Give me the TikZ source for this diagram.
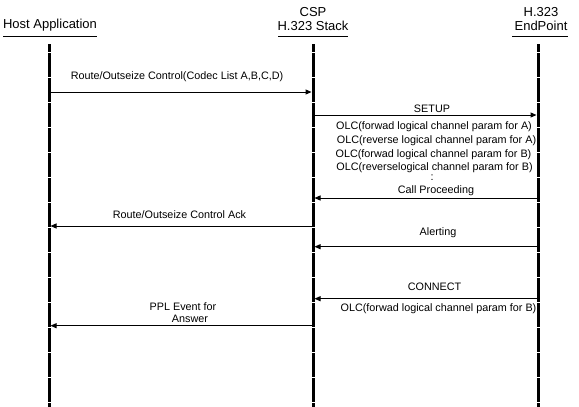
\documentclass[tikz,border=0pt]{standalone}
\usepackage{fontspec}
\setmainfont{Liberation Sans}
\usetikzlibrary{arrows.meta}
\begin{document}
\begin{tikzpicture}[x=1pt,y=-1pt,
  lifeline/.style={line width=3pt, dash pattern=on 24pt off 1pt, dash phase=16pt},
  msg/.style={line width=1pt, -{Triangle[length=6pt,width=5pt]}},
  lbl/.style={font=\fontsize{10.8}{13}\selectfont, inner sep=0pt, anchor=base},
  hdr/.style={font=\fontsize{13}{15}\selectfont, inner sep=0pt, anchor=base},
  uline/.style={line width=1pt}]
\useasboundingbox (0,0) rectangle (579,407);
% headers
\node[hdr] (hhost) at (50,28.5) {Host Application};
\node[hdr] (hcsp1) at (313,16) {CSP};
\node[hdr] (hcsp2) at (313,30) {H.323 Stack};
\node[hdr] (hep1) at (541,16) {H.323};
\node[hdr] (hep2) at (541,30) {EndPoint};
\coordinate (u1a) at (3,36.5);   \coordinate (u1b) at (97,36.5);
\coordinate (u2a) at (278,36.5); \coordinate (u2b) at (348,36.5);
\coordinate (u3a) at (512,36.5); \coordinate (u3b) at (568,36.5);
\draw[uline] (u1a) -- (u1b);
\draw[uline] (u2a) -- (u2b);
\draw[uline] (u3a) -- (u3b);
% lifelines
\coordinate (hostT) at (49,44);  \coordinate (hostB) at (49,407);
\coordinate (cspT) at (313,44);  \coordinate (cspB) at (313,407);
\coordinate (epT) at (538,44);   \coordinate (epB) at (538,407);
\draw[lifeline] (hostT) -- (hostB);
\draw[lifeline] (cspT) -- (cspB);
\draw[lifeline] (epT) -- (epB);
% message 1
\node[lbl] (l1) at (177,79.5) {Route/Outseize Control(Codec List A,B,C,D)};
\coordinate (m1a) at (50.5,92); \coordinate (m1b) at (311.5,92);
\draw[msg] (m1a) -- (m1b);
% SETUP
\node[lbl] (l2) at (432,112.5) {SETUP};
\coordinate (m2a) at (314.5,115); \coordinate (m2b) at (536.5,115);
\draw[msg] (m2a) -- (m2b);
\node[lbl] (o1) at (434,129.5) {OLC(forwad logical channel param for A)};
\node[lbl] (o2) at (436.5,143.5) {OLC(reverse logical channel param for A)};
\node[lbl] (o3) at (433.5,157) {OLC(forwad logical channel param for B)};
\node[lbl] (o4) at (434.5,170.5) {OLC(reverselogical channel param for B)};
\node[lbl] (o5) at (432,180.5) {:};
% Call Proceeding
\node[lbl] (l3) at (436,193.5) {Call Proceeding};
\coordinate (m3a) at (536.5,198); \coordinate (m3b) at (314.5,198);
\draw[msg] (m3a) -- (m3b);
% Ack
\node[lbl] (l4) at (179.5,218.5) {Route/Outseize Control Ack};
\coordinate (m4a) at (311.5,226); \coordinate (m4b) at (50.5,226);
\draw[msg] (m4a) -- (m4b);
% Alerting
\node[lbl] (l5) at (438,235) {Alerting};
\coordinate (m5a) at (536.5,246.7); \coordinate (m5b) at (314.5,246.7);
\draw[msg] (m5a) -- (m5b);
% CONNECT
\node[lbl] (l6) at (434.5,290.5) {CONNECT};
\coordinate (m6a) at (536.5,298.7); \coordinate (m6b) at (314.5,298.7);
\draw[msg] (m6a) -- (m6b);
\node[lbl] (o6) at (438.5,311.5) {OLC(forwad logical channel param for B)};
% PPL
\node[lbl] (l7a) at (183,310) {PPL Event for};
\node[lbl] (l7b) at (190,322.5) {Answer};
\coordinate (m7a) at (311.5,325.7); \coordinate (m7b) at (50.5,325.7);
\draw[msg] (m7a) -- (m7b);
\end{tikzpicture}
\end{document}
